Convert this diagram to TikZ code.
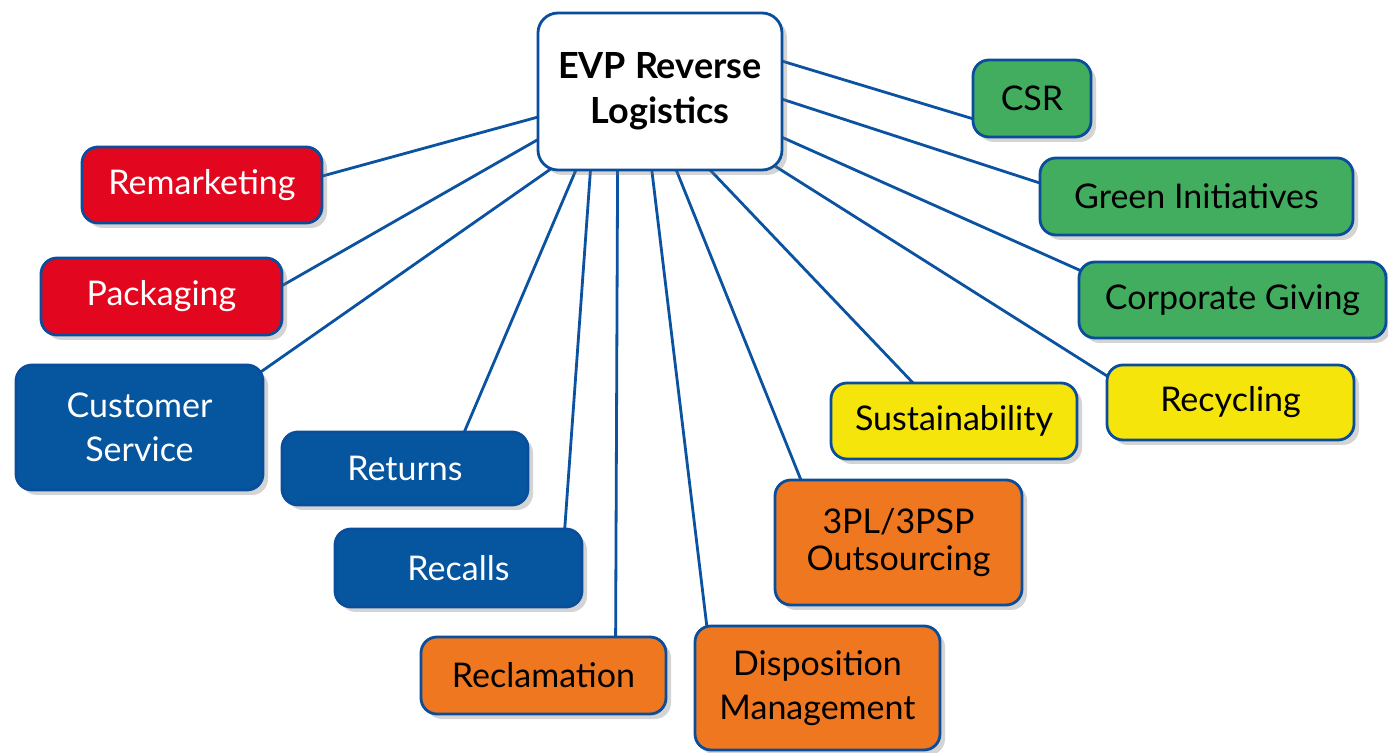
\documentclass[tikz,border=0pt]{standalone}
\usepackage{fontspec}
\setmainfont{Lato}
\usetikzlibrary{calc,shadows,backgrounds}
\definecolor{bd}{HTML}{0A4E9B}
\definecolor{redf}{HTML}{E2071E}
\definecolor{bluef}{HTML}{06559F}
\definecolor{greenf}{HTML}{43AD5F}
\definecolor{yellowf}{HTML}{F6E50B}
\definecolor{orangef}{HTML}{EE7720}
\definecolor{linec}{HTML}{0B52A0}
\begin{document}
\begin{tikzpicture}[x=0.5pt,y=-0.5pt,
  box/.style={draw=bd, line width=1.4pt, rounded corners=8pt, inner sep=0pt, align=center,
     font=\fontsize{17}{22}\selectfont,
     drop shadow={opacity=0.3, fill=black!55, shadow xshift=2.5pt, shadow yshift=-2.5pt}},
  sz/.style 2 args={minimum width=#1*0.5pt, minimum height=#2*0.5pt},
  redbox/.style={box, fill=redf, text=white},
  bluebox/.style={box, fill=bluef, text=white},
  greenbox/.style={box, fill=greenf, text=black},
  yellowbox/.style={box, fill=yellowf, text=black},
  orangebox/.style={box, fill=orangef, text=black},
  mainbox/.style={box, fill=white, text=black, rounded corners=10pt,
     font=\fontsize{18}{22.5}\selectfont\bfseries},
  link/.style={draw=linec, line width=1.4pt}
]
\useasboundingbox (0,0) rectangle (1388,753);

\node[mainbox, sz={244}{157}] (evp) at (660,91.5) {EVP Reverse\\Logistics};

\node[greenbox, sz={118}{77}] (csr) at (1032,98.5) {CSR};
\node[greenbox, sz={313}{77}] (gi) at (1196.5,196.5) {Green Initiatives};
\node[greenbox, sz={307}{76}] (cg) at (1232.5,300) {Corporate Giving};
\node[yellowbox, sz={247}{75}] (rec) at (1230.5,402.5) {Recycling};
\node[yellowbox, sz={246}{76}] (sus) at (954,421) {Sustainability};
\node[orangebox, sz={247}{125}, font=\fontsize{17}{18.5}\selectfont] (tpl) at (898.5,542.5) {3PL/3PSP\\Outsourcing};
\node[orangebox, sz={245}{124}] (disp) at (817.5,688) {Disposition\\Management};
\node[orangebox, sz={245}{77}] (recl) at (543.5,675.5) {Reclamation};
\node[bluebox, sz={247}{78}] (recalls) at (458.5,568) {Recalls};
\node[bluebox, sz={246}{73}] (returns) at (405,468.5) {Returns};
\node[bluebox, sz={247}{125}] (cs) at (139.5,427.5) {Customer\\Service};
\node[redbox, sz={241}{77}] (pack) at (161.5,296.5) {Packaging};
\node[redbox, sz={240}{76}] (rem) at (202,185) {Remarketing};

\begin{scope}[on background layer]
\fill[white] (0,0) rectangle (1388,753);
\draw[link] ($(evp.north west)+(3,105)$) -- ($(rem.north east)+(-3,31)$);
\draw[link] ($(evp.north west)+(3,127)$) -- ($(pack.north east)+(-3,30)$);
\draw[link] ($(evp.south west)+(15,-3)$) -- ($(cs.north east)+(-6,10)$);
\draw[link] ($(evp.south west)+(40,-3)$) -- ($(returns.north west)+(183,3)$);
\draw[link] ($(evp.south west)+(54,-3)$) -- ($(recalls.north west)+(231,3)$);
\draw[link] ($(evp.south west)+(81,-3)$) -- ($(recl.north west)+(196,3)$);
\draw[link] ($(evp.south west)+(115,-3)$) -- ($(disp.north west)+(14,8)$);
\draw[link] ($(evp.south west)+(139,-3)$) -- ($(tpl.north west)+(28,3)$);
\draw[link] ($(evp.south west)+(172,-3)$) -- ($(sus.north west)+(85,3)$);
\draw[link] ($(evp.south east)+(-8,-5)$) -- ($(rec.north west)+(4,14)$);
\draw[link] ($(evp.north east)+(-3,125)$) -- ($(cg.north west)+(3,10)$);
\draw[link] ($(evp.north east)+(-3,87)$) -- ($(gi.north west)+(3,27)$);
\draw[link] ($(evp.north east)+(-3,49)$) -- ($(csr.north west)+(4,61)$);
\end{scope}
\end{tikzpicture}
\end{document}
